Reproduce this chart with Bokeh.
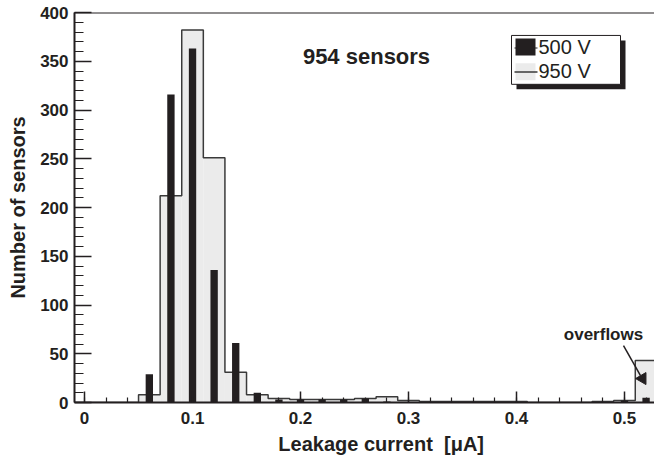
from math import pi

from bokeh.plotting import figure
from bokeh.models import (FixedTicker, CustomJSTickFormatter, Label, Span,
                          BoxAnnotation, Range1d)
from bokeh.embed import file_html
from bokeh.resources import INLINE

# Leakage current histograms of 954 sensors at two bias voltages (bins of 0.02 uA,
# the last bin collects the overflows)
bin_centers = [0.06, 0.08, 0.10, 0.12, 0.14, 0.16, 0.18, 0.20, 0.22, 0.24,
               0.26, 0.28, 0.30, 0.32, 0.34, 0.36, 0.38, 0.40, 0.42, 0.44,
               0.46, 0.48, 0.50, 0.52]
counts_950V = [8, 212, 382, 251, 31, 8, 4, 3, 3, 3,
               4, 6, 2, 1, 1, 1, 1, 1, 0, 0,
               0, 1, 2, 43]
counts_500V = [29, 316, 363, 136, 61, 10, 3, 3, 3, 3,
               4, 1, 0, 0, 0, 0, 0, 0, 0, 0,
               0, 0, 2, 5]
bin_width = 0.02

x_major = [0.0, 0.1, 0.2, 0.3, 0.4, 0.5]
y_major = list(range(0, 401, 50))

INK = "#231f20"
FONT = "Liberation Sans"

# frame geometry (pixels) and data ranges
W, H = 654, 457
FL, FR, FT, FB = 74, 654, 12, 403
X0, X1 = -0.0093, 0.5278
Y0, Y1 = 0, 400


def sx(px):
    return X0 + (px - FL) * (X1 - X0) / (FR - FL)


def sy(py):
    return Y0 + (FB - py) * (Y1 - Y0) / (FB - FT)


p = figure(width=W, height=H, output_backend="svg", toolbar_location=None,
           x_range=Range1d(X0, X1), y_range=Range1d(Y0, Y1),
           min_border_left=FL, min_border_right=W - FR,
           min_border_top=FT, min_border_bottom=H - FB)
p.outline_line_color = None
p.xgrid.visible = False
p.ygrid.visible = False
p.background_fill_color = "white"
p.border_fill_color = "white"

# 950 V: filled step histogram
lefts = [c - bin_width / 2 for c in bin_centers]
rights = [c + bin_width / 2 for c in bin_centers]
p.quad(left=lefts, right=rights, bottom=0, top=counts_950V,
       fill_color="#ebebeb", line_color=None)

xs = [X0, lefts[0]]
ys = [0, 0]
for l, r, c in zip(lefts, rights, counts_950V):
    xs += [l, r]
    ys += [c, c]
xs.append(rights[-1])
ys.append(0)
p.line(xs, ys, line_color="#3a3a3a", line_width=1.5)

# 500 V: narrow black bars
p.vbar(x=bin_centers, top=counts_500V, width=0.0068,
       fill_color=INK, line_color=None)

# axes
p.xaxis.ticker = FixedTicker(ticks=x_major,
                             minor_ticks=[round(i * 0.02, 2) for i in range(27)])
p.xaxis.formatter = CustomJSTickFormatter(
    code="return tick == 0 ? '0' : tick.toFixed(1);")
p.yaxis.ticker = FixedTicker(ticks=y_major, minor_ticks=list(range(0, 401, 10)))

for ax in (p.xaxis[0], p.yaxis[0]):
    ax.axis_line_color = INK
    ax.axis_line_width = 2
    ax.major_tick_line_color = INK
    ax.minor_tick_line_color = INK
    ax.major_tick_line_width = 1.5
    ax.minor_tick_line_width = 1.2
    ax.major_tick_out = 0
    ax.minor_tick_out = 0
    ax.major_label_text_font = FONT
    ax.major_label_text_font_style = "bold"
    ax.major_label_text_font_size = "17px"
    ax.major_label_text_color = INK
    ax.axis_label_text_font = FONT
    ax.axis_label_text_font_style = "bold"
    ax.axis_label_text_font_size = "20px"
    ax.axis_label_text_color = INK

p.xaxis.major_tick_in = 11
p.xaxis.minor_tick_in = 5
p.xaxis.major_label_standoff = 9
# leading no-break spaces push the centred title to the right
p.xaxis.axis_label = "\u00a0" * 6 + "Leakage current\u00a0\u00a0[\u03bcA]"
p.xaxis.axis_label_standoff = 6

p.yaxis.major_tick_in = 17
p.yaxis.minor_tick_in = 9
p.yaxis.major_label_standoff = 6
p.yaxis.axis_label = "Number of sensors"
p.yaxis.axis_label_standoff = 8

# top edge of the frame
p.add_layout(Span(location=Y1, dimension="width", line_color=INK, line_width=2))

# sample size
p.add_layout(Label(x=sx(366), y=sy(56), text="954 sensors",
                   text_font=FONT, text_font_style="bold", text_font_size="22px",
                   text_color=INK, text_align="center", text_baseline="middle"))

# overflow note with arrow
p.add_layout(Label(x=sx(603), y=sy(335), text="overflows",
                   text_font=FONT, text_font_style="bold", text_font_size="17px",
                   text_color=INK, text_align="center", text_baseline="middle"))
p.segment(x0=[sx(623)], y0=[sy(346)], x1=[sx(640)], y1=[sy(376)],
          line_color=INK, line_width=1.5)
p.scatter(x=[sx(642)], y=[sy(379)], marker="triangle", size=12, angle=pi / 2,
          fill_color=INK, line_color=INK)

# legend box with drop shadow
p.add_layout(BoxAnnotation(left=sx(516), right=sx(625), top=sy(40), bottom=sy(89),
                           fill_color=INK, fill_alpha=1, line_color=None))
p.add_layout(BoxAnnotation(left=sx(511), right=sx(620), top=sy(35), bottom=sy(84),
                           fill_color="white", fill_alpha=1,
                           line_color=INK, line_width=1, line_alpha=1))
p.add_layout(BoxAnnotation(left=sx(514), right=sx(537), top=sy(47), bottom=sy(48),
                           fill_color=INK, fill_alpha=1, line_color=None))
p.add_layout(BoxAnnotation(left=sx(515), right=sx(535), top=sy(38), bottom=sy(55),
                           fill_color=INK, fill_alpha=1, line_color=None))
p.add_layout(BoxAnnotation(left=sx(515), right=sx(535), top=sy(63), bottom=sy(80),
                           fill_color="#ebebeb", fill_alpha=1, line_color=None))
p.add_layout(BoxAnnotation(left=sx(514), right=sx(537), top=sy(71), bottom=sy(72.5),
                           fill_color="#3a3a3a", fill_alpha=1, line_color=None))
p.add_layout(Label(x=sx(538), y=sy(47), text="500 V", text_font=FONT,
                   text_font_size="20px", text_color=INK,
                   text_align="left", text_baseline="middle"))
p.add_layout(Label(x=sx(538), y=sy(71), text="950 V", text_font=FONT,
                   text_font_size="20px", text_color=INK,
                   text_align="left", text_baseline="middle"))

open("out.html", "w").write(file_html(p, INLINE))
